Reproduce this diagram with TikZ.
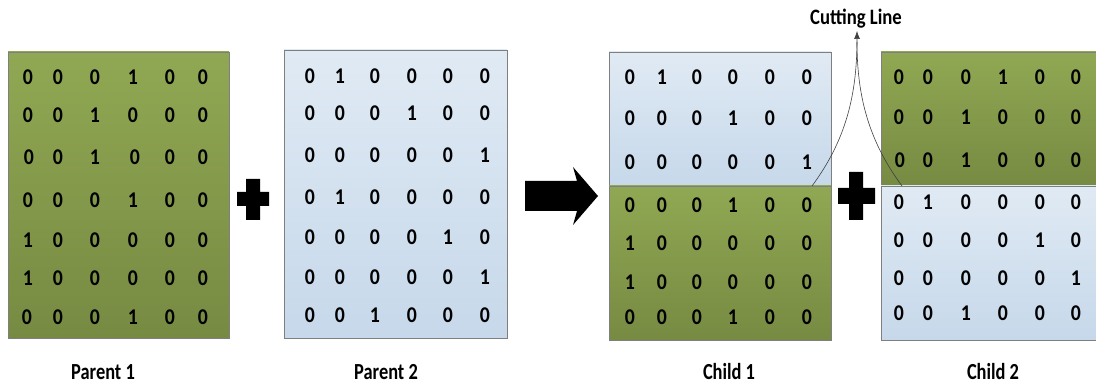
\documentclass[tikz,border=0pt]{standalone}
\usepackage{fontspec}
\setmainfont{Carlito}
\usetikzlibrary{arrows.meta}
\definecolor{gtop}{HTML}{90A853}
\definecolor{gbot}{HTML}{778A42}
\definecolor{btop}{HTML}{E0EAF4}
\definecolor{bbot}{HTML}{C6D8EA}
\definecolor{edgegray}{HTML}{7F7F7F}
\newcommand\mrow[3]{%
  \foreach \xx/\vv [count=\cc] in {#3} {\node[digit] (#1-\cc) at (\xx,#2) {\scalebox{0.88}[1]{\vv}};}}
\begin{document}
\begin{tikzpicture}[x=1pt,y=-1pt,
  greenbox/.style={draw=edgegray, line width=0.8pt, top color=gtop, bottom color=gbot},
  bluebox/.style={draw=edgegray, line width=0.8pt, top color=btop, bottom color=bbot},
  digit/.style={font=\fontsize{22.5}{26}\selectfont\bfseries, inner sep=0pt, anchor=center},
  caption/.style={font=\fontsize{23}{26}\selectfont\bfseries, inner sep=0pt},
  cutline/.style={draw=black!75, line width=0.6pt},
]
\useasboundingbox (0,0) rectangle (1096,387);

% boxes
\path[greenbox] (8,52) rectangle (229,338);
\path[bluebox] (284,50) rectangle (507,338);
\path[bluebox] (609,52) rectangle (831,186);
\path[greenbox] (609,186) rectangle (831,340);
\path[greenbox] (881,52) rectangle (1100,186);
\path[bluebox] (881,186) rectangle (1100,340);

% Parent 1
\mrow{pa1}{77}{28/0,58/0,95/0,133/1,170/0,203/0}
\mrow{pa2}{115}{28/0,58/0,95/1,133/0,170/0,203/0}
\mrow{pa3}{157}{29/0,58/0,95/1,135/0,170/0,203/0}
\mrow{pa4}{200}{28/0,58/0,95/0,133/1,170/0,203/0}
\mrow{pa5}{240}{28/1,58/0,95/0,133/0,170/0,203/0}
\mrow{pa6}{278}{28/1,58/0,95/0,133/0,170/0,203/0}
\mrow{pa7}{317}{27/0,58/0,95/0,133/1,170/0,203/0}

% Parent 2
\mrow{pb1}{76}{310/0,340/1,375/0,412/0,448/0,485/0}
\mrow{pb2}{113}{310/0,340/0,375/0,412/1,448/0,485/0}
\mrow{pb3}{155}{310/0,340/0,375/0,412/0,448/0,485/1}
\mrow{pb4}{197}{310/0,340/1,375/0,412/0,448/0,485/0}
\mrow{pb5}{237}{310/0,340/0,375/0,412/0,448/1,485/0}
\mrow{pb6}{277}{310/0,340/0,375/0,412/0,448/0,485/1}
\mrow{pb7}{315}{310/0,340/0,375/1,412/0,448/0,485/0}

% Child 1
\mrow{ca1}{77}{630/0,662/1,697/0,733/0,770/0,807/0}
\mrow{ca2}{118}{630/0,662/0,697/0,733/1,770/0,807/0}
\mrow{ca3}{162}{630/0,662/0,697/0,733/0,770/0,807/1}
\mrow{ca4}{205}{630/0,662/0,697/0,733/1,770/0,807/0}
\mrow{ca5}{243}{630/1,662/0,697/0,733/0,770/0,807/0}
\mrow{ca6}{282}{630/1,662/0,697/0,733/0,770/0,807/0}
\mrow{ca7}{317}{630/0,662/0,697/0,733/1,770/0,807/0}

% Child 2
\mrow{cb1}{77}{899/0,928/0,966/0,1003/1,1040/0,1076/0}
\mrow{cb2}{117}{899/0,928/0,966/1,1003/0,1040/0,1076/0}
\mrow{cb3}{160}{900/0,928/0,966/1,1003/0,1040/0,1076/0}
\mrow{cb4}{202}{899/0,928/1,966/0,1003/0,1040/0,1076/0}
\mrow{cb5}{240}{899/0,928/0,966/0,1003/0,1040/1,1076/0}
\mrow{cb6}{278}{899/0,928/0,966/0,1003/0,1040/0,1076/1}
\mrow{cb7}{313}{899/0,928/0,966/1,1003/0,1040/0,1076/0}

% plus signs
\fill[black] (237,192) rectangle (269,206) (246,179) rectangle (260,220);
\fill[black] (838,188) rectangle (875,204) (849,172) rectangle (863,220);

% big arrow
\fill[black] (525,181) -- (577,181) -- (573,167) -- (598,196) -- (573,225) -- (577,211) -- (525,211) -- cycle;

% cutting line
\coordinate (c1) at (812,186);
\coordinate (c2) at (902,186);
\coordinate (ctip) at (857,31);
\coordinate (cjoin) at (857,42);
\node[caption, font=\fontsize{22}{25}\selectfont\bfseries] (cut) at (856,19) {\scalebox{0.85}[1]{Cutting Line}};
\draw[cutline, -{Latex[length=8pt,width=6pt]}] (c1) .. controls (846,140) and (857,95) .. (ctip);
\draw[cutline] (c2) .. controls (868,140) and (857,95) .. (cjoin);

% captions
\node[caption] (l1) at (103,372) {\scalebox{0.8}[1]{Parent 1}};
\node[caption] (l2) at (386,372) {\scalebox{0.8}[1]{Parent 2}};
\node[caption] (l3) at (729,372) {\scalebox{0.8}[1]{Child 1}};
\node[caption] (l4) at (993,372) {\scalebox{0.8}[1]{Child 2}};
\end{tikzpicture}
\end{document}
